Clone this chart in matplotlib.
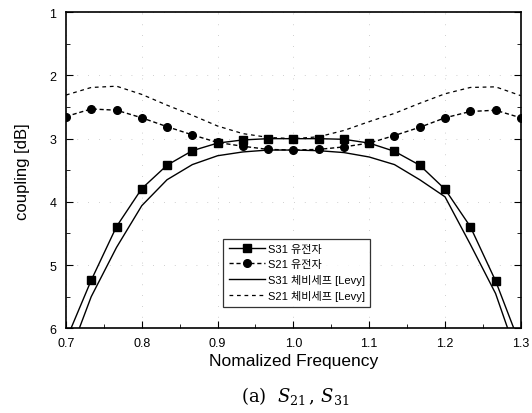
import numpy as np
import matplotlib.pyplot as plt
from matplotlib.ticker import MultipleLocator

plt.rcParams['font.family'] = ['Liberation Sans', 'Noto Sans CJK KR', 'DejaVu Sans']

# normalized frequency grid (step 1/30)
freq = [0.7, 0.7333, 0.7667, 0.8, 0.8333, 0.8667, 0.9, 0.9333, 0.9667, 1.0,
        1.0333, 1.0667, 1.1, 1.1333, 1.1667, 1.2, 1.2333, 1.2667, 1.3]

# measured (dielectric resonator) coupling, dB
s31_meas = [6.19, 5.24, 4.39, 3.79, 3.42, 3.19, 3.07, 3.02, 3.0, 3.0,
            3.0, 3.01, 3.07, 3.2, 3.42, 3.8, 4.39, 5.25, 6.29]
s21_meas = [2.65, 2.53, 2.55, 2.67, 2.81, 2.94, 3.06, 3.12, 3.17, 3.18,
            3.17, 3.13, 3.07, 2.95, 2.82, 2.67, 2.57, 2.55, 2.67]

# Chebyshev prototype [Levy], dB
s31_cheb = [6.56, 5.5, 4.72, 4.06, 3.65, 3.41, 3.27, 3.21, 3.18, 3.18,
            3.19, 3.22, 3.29, 3.41, 3.65, 3.92, 4.67, 5.45, 6.6]
s21_cheb = [2.31, 2.19, 2.17, 2.3, 2.47, 2.63, 2.8, 2.92, 2.98, 3.0,
            2.97, 2.87, 2.73, 2.6, 2.44, 2.29, 2.19, 2.18, 2.32]

labels = ['S31 유전자', 'S21 유전자', 'S31 체비세프 [Levy]', 'S21 체비세프 [Levy]']

fig = plt.figure(figsize=(5.32, 4.14), dpi=100)
ax = fig.add_axes([0.124, 0.2046, 0.855, 0.7634])

ax.plot(freq, s31_meas, color='black', lw=1.0, marker='s', ms=5.5, label=labels[0])
ax.plot(freq, s21_meas, color='black', lw=1.0, ls=(0, (3, 2)), marker='o', ms=5.5, label=labels[1])
ax.plot(freq, s31_cheb, color='black', lw=1.0, label=labels[2])
ax.plot(freq, s21_cheb, color='black', lw=0.9, ls=(0, (3, 3)), label=labels[3])

ax.set_xlim(0.7, 1.3)
ax.set_ylim(6, 1)
ax.xaxis.set_major_locator(MultipleLocator(0.1))
ax.xaxis.set_minor_locator(MultipleLocator(0.05))
ax.yaxis.set_major_locator(MultipleLocator(1))
ax.yaxis.set_minor_locator(MultipleLocator(0.5))
ax.xaxis.set_major_formatter(plt.FuncFormatter(lambda v, p: '%.1f' % v))
ax.yaxis.set_major_formatter(plt.FuncFormatter(lambda v, p: '%d' % v))
ax.tick_params(which='both', direction='in', right=True, labelsize=9)
ax.tick_params(which='major', length=5)
ax.tick_params(which='minor', length=3)
ax.tick_params(axis='x', pad=6)
ax.tick_params(axis='y', pad=7)
ax.grid(True, color='0.75', lw=0.6, ls=(0, (1, 12)))
for s in ax.spines.values():
    s.set_linewidth(1.2)

ax.set_xlabel('Nomalized Frequency', fontsize=12.5, labelpad=3)
ax.set_ylabel('coupling [dB]', fontsize=12, labelpad=14)

leg = ax.legend(loc='lower left', bbox_to_anchor=(0.334, 0.05), fontsize=8,
                frameon=True, fancybox=False, edgecolor='black', handlelength=3.2,
                borderpad=0.5, labelspacing=0.45, handletextpad=0.3)
leg.get_frame().set_linewidth(0.9)

fig.text(0.555, 0.043, r'(a)  $S_{21}\,,\,S_{31}$', ha='center', va='center',
         fontsize=13, family='DejaVu Serif', math_fontfamily='dejavuserif')

fig.savefig('out.png', dpi=100)
